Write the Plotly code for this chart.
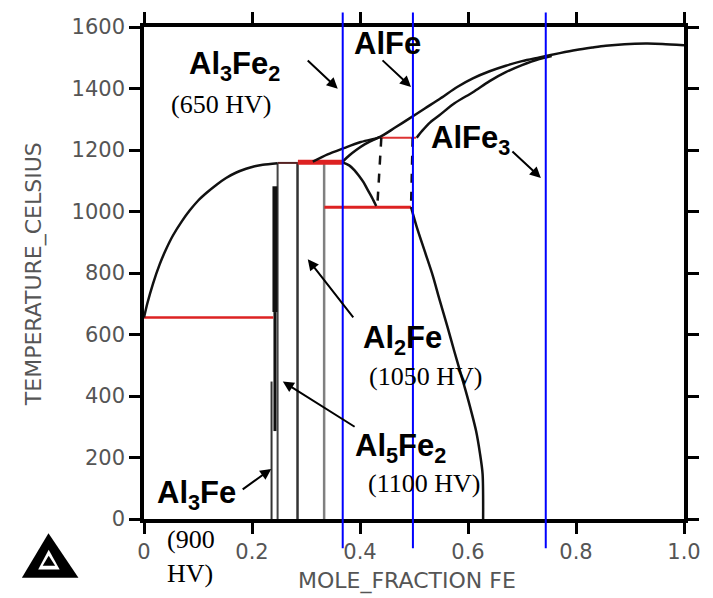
import plotly.graph_objects as go

# ---------------- data (mole fraction Fe, temperature in Celsius) ----------------
LIQ_AL_X = [0, 0.006, 0.0166, 0.029, 0.04, 0.0536, 0.07, 0.0845, 0.1, 0.1154, 0.135, 0.152, 0.17, 0.189, 0.205, 0.22, 0.2474]
LIQ_AL_T = [655, 700, 765, 828, 874, 922, 968, 1003, 1035, 1060, 1088, 1109, 1126, 1139, 1147, 1152, 1157]

LIQ_FE_X = [0.3126, 0.34, 0.37, 0.40, 0.436, 0.465, 0.491, 0.52, 0.55, 0.58, 0.609, 0.64, 0.67, 0.70, 0.732, 0.77, 0.80, 0.83, 0.855, 0.89, 0.929, 0.96, 1.0]
LIQ_FE_T = [1162, 1186, 1206, 1225, 1242, 1273, 1302, 1335, 1369, 1405, 1433, 1456, 1474, 1489, 1501, 1515, 1525, 1533, 1539, 1544, 1546, 1545, 1541]

SOL_B2_X = [0.505, 0.515, 0.53, 0.547, 0.575, 0.609, 0.64, 0.67, 0.70, 0.732, 0.755]
SOL_B2_T = [1240, 1262, 1290, 1313, 1352, 1388, 1424, 1453, 1476, 1496, 1506]

EPS_UP_X = [0.368, 0.38, 0.393, 0.41, 0.425, 0.436]
EPS_UP_T = [1162, 1182, 1200, 1220, 1233, 1242]

EPS_LOW_X = [0.368, 0.38, 0.39, 0.399, 0.407, 0.414, 0.422, 0.43]
EPS_LOW_T = [1160, 1150, 1134, 1114, 1094, 1071, 1046, 1018]

B2_LOW_X = [0.4945, 0.505, 0.52, 0.535, 0.547, 0.562, 0.575, 0.587, 0.596, 0.606, 0.615, 0.622, 0.627, 0.628]
B2_LOW_T = [1014, 950, 870, 790, 715, 625, 543, 470, 415, 350, 286, 215, 147, 0]

DASH_A_X = [0.4395, 0.432]
DASH_A_T = [1240, 1016]
DASH_B_X = [0.4975, 0.4945]
DASH_B_T = [1240, 1014]

# stoichiometric compound lines
COMP_X = [0.2362, 0.2474, 0.2843, 0.3336]
COMP_TOP = [447, 1157, 1157, 1157]
COMP_COLOR = ["#333333", "#444444", "#333333", "#808080"]
COMP_WIDTH = [2, 2, 2.5, 2.5]
THICK_X = 0.2425
THICK_T = [[286, 673], [673, 1082]]
THICK_W = [3, 5]

# invariant (red) isotherms
ISO_T = [655, 1158, 1160, 1240, 1014]
ISO_X0 = [0.0, 0.2474, 0.285, 0.436, 0.334]
ISO_X1 = [0.2395, 0.285, 0.368, 0.504, 0.4945]
ISO_W = [2.5, 2, 5, 2, 3]
ISO_C = ["#dd2222", "#552222", "#dd2222", "#dd3333", "#dd2222"]

# blue composition markers
BLUE_X = [0.368, 0.498, 0.744]
BLUE_T = [-95, 1647]

X_RANGE = [0, 1]
Y_RANGE = [0, 1600]
X_TICKS = [0, 0.2, 0.4, 0.6, 0.8, 1.0]
X_TICKTEXT = ["0", "0.2", "0.4", "0.6", "0.8", "1.0"]
Y_TICKS = [0, 200, 400, 600, 800, 1000, 1200, 1400, 1600]

# ---------------- figure ----------------
fig = go.Figure()
BLACK = "#111111"


def add_line(x, y, color, width, dash="solid", shape="linear"):
    fig.add_trace(go.Scatter(x=x, y=y, mode="lines",
                             line=dict(color=color, width=width, dash=dash, shape=shape, smoothing=0.8),
                             hoverinfo="skip", showlegend=False))


for cx, top, col, w in zip(COMP_X, COMP_TOP, COMP_COLOR, COMP_WIDTH):
    add_line([cx, cx], [0, top], col, w)
for seg, w in zip(THICK_T, THICK_W):
    add_line([THICK_X, THICK_X], seg, BLACK, w)

for t, x0, x1, w, c in zip(ISO_T, ISO_X0, ISO_X1, ISO_W, ISO_C):
    add_line([x0, x1], [t, t], c, w)

add_line(LIQ_AL_X, LIQ_AL_T, BLACK, 2.5, shape="spline")
add_line(LIQ_FE_X, LIQ_FE_T, BLACK, 2.5, shape="spline")
add_line(SOL_B2_X, SOL_B2_T, BLACK, 2.5, shape="spline")
add_line(EPS_UP_X, EPS_UP_T, BLACK, 2.5, shape="spline")
add_line(EPS_LOW_X, EPS_LOW_T, BLACK, 2.5, shape="spline")
add_line(B2_LOW_X, B2_LOW_T, BLACK, 2.5, shape="spline")
add_line(DASH_A_X, DASH_A_T, BLACK, 2.5, dash="dash")
add_line(DASH_B_X, DASH_B_T, BLACK, 2.5, dash="dash")

shapes = []
for bx in BLUE_X:
    shapes.append(dict(type="line", xref="x", yref="paper", x0=bx, x1=bx,
                       y0=(BLUE_T[0] - Y_RANGE[0]) / (Y_RANGE[1] - Y_RANGE[0]),
                       y1=(BLUE_T[1] - Y_RANGE[0]) / (Y_RANGE[1] - Y_RANGE[0]),
                       line=dict(color="#0000ff", width=2)))

# plot-area pixel geometry used for placing decorations
L, R, T, B = 144, 28, 23, 79
W, H = 713, 598
PW, PH = W - L - R, H - T - B


def pp(px, py):
    return (px - L) / PW, (H - B - py) / PH


def tri_path(pts):
    s = ""
    for i, (a, b) in enumerate(pts):
        x, y = pp(a, b)
        s += ("M" if i == 0 else "L") + f"{x:.4f},{y:.4f} "
    return s + "Z"


shapes.append(dict(type="path", xref="paper", yref="paper",
                   path=tri_path([(21.7, 578.3), (48.3, 533.3), (78.3, 578.3)]),
                   fillcolor="black", line=dict(width=0)))
shapes.append(dict(type="path", xref="paper", yref="paper",
                   path=tri_path([(38, 570), (48.5, 550), (59.5, 570)]),
                   fillcolor="white", line=dict(width=0)))
shapes.append(dict(type="path", xref="paper", yref="paper",
                   path=tri_path([(42.5, 566), (48.5, 556), (55, 566)]),
                   fillcolor="black", line=dict(width=0)))

annotations = []
# arrows: (head x, head T, tail x, tail T)
ARROWS = [
    (0.3588, 1399, 0.3004, 1496),
    (0.4945, 1405, 0.439, 1496),
    (0.735, 1109, 0.6795, 1200),
    (0.3033, 845, 0.3897, 651),
    (0.2571, 447, 0.3928, 297),
    (0.2356, 163, 0.180, 93),
]
for hx, hy, tx, ty in ARROWS:
    annotations.append(dict(x=hx, y=hy, ax=tx, ay=ty, xref="x", yref="y", axref="x", ayref="y",
                            showarrow=True, arrowhead=2, arrowsize=1.1, arrowwidth=2,
                            arrowcolor="black", text=""))

BOLD = dict(family="Liberation Sans, Arial", size=31, color="black")
SERIF = dict(family="Liberation Serif, Times New Roman", size=26, color="black")
LABELS = [
    ("<b>Al<sub>3</sub>Fe<sub>2</sub></b>", 235, 62, BOLD, "center"),
    ("(650 HV)", 221, 101, SERIF, "center"),
    ("<b>AlFe</b>", 388, 40, BOLD, "center"),
    ("<b>AlFe<sub>3</sub></b>", 471, 137, BOLD, "center"),
    ("<b>Al<sub>2</sub>Fe</b>", 403, 339, BOLD, "center"),
    ("(1050 HV)", 426, 375, SERIF, "center"),
    ("<b>Al<sub>5</sub>Fe<sub>2</sub></b>", 401, 447, BOLD, "center"),
    ("(1100 HV)", 425, 483, SERIF, "center"),
    ("<b>Al<sub>3</sub>Fe</b>", 197, 495, BOLD, "center"),
]
for txt, px, py, f, xa in LABELS:
    x, y = pp(px, py)
    annotations.append(dict(x=x, y=y, xref="paper", yref="paper", text=txt, showarrow=False,
                            font=f, xanchor=xa, yanchor="middle"))
x, y = pp(165, 557)
annotations.append(dict(x=x, y=y, xref="paper", yref="paper", text="(900<br>HV)", showarrow=False,
                        font=SERIF, xanchor="left", yanchor="middle", align="left"))

AXFONT = dict(family="DejaVu Sans, Arial", size=22, color="#555555")
x, y = pp(407, 581)
annotations.append(dict(x=x, y=y, xref="paper", yref="paper", text="MOLE_FRACTION FE",
                        showarrow=False, font=AXFONT, xanchor="center", yanchor="middle"))
x, y = pp(34, 272)
annotations.append(dict(x=x, y=y, xref="paper", yref="paper", text="TEMPERATURE_CELSIUS",
                        showarrow=False, font=AXFONT, textangle=-90, xanchor="center", yanchor="middle"))

TICKFONT = dict(family="DejaVu Sans, Arial", size=21, color="#555555")
axis_common = dict(showgrid=False, zeroline=False, showline=True, linecolor="black", linewidth=3.5,
                   mirror="ticks", ticks="outside", ticklen=11, tickwidth=3, tickcolor="black",
                   tickfont=TICKFONT)

fig.update_layout(
    width=W, height=H,
    margin=dict(l=L, r=R, t=T, b=B),
    paper_bgcolor="white", plot_bgcolor="white",
    xaxis=dict(range=X_RANGE, tickvals=X_TICKS, ticktext=X_TICKTEXT, **axis_common),
    yaxis=dict(range=Y_RANGE, tickvals=Y_TICKS, **axis_common),
    shapes=shapes, annotations=annotations,
)

fig.write_html("out.html", config={"displayModeBar": False},
               post_script="document.body.style.margin='0';")
